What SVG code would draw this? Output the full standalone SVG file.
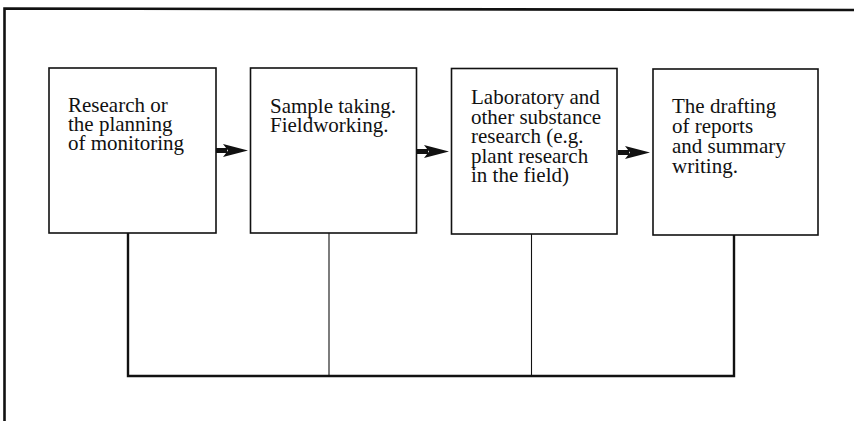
<svg xmlns="http://www.w3.org/2000/svg" width="854" height="421" viewBox="0 0 854 421">
<defs>
<style>
.box{fill:#fff;stroke:#111;stroke-width:1.6}
.lbl{font-family:"Liberation Serif","Times New Roman",serif;font-size:21px;fill:#111}
.frame{fill:none;stroke:#111;stroke-width:2.6}
.wire{fill:none;stroke:#111;stroke-linecap:square}
.head{fill:#111}
</style>
<g id="arrowShape">
<rect x="0" y="-2.5" width="11" height="5"/>
<polygon points="7,-6.5 32,0 7,6.5 12,0"/>
</g>
</defs>
<rect width="854" height="421" fill="#fff"/>
<path class="frame" d="M4.5,421 L4.5,8.5 L854,10"/>
<g id="connectors">
<path class="wire" stroke-width="2.4" d="M128,233 L128,376 L734,376 L734,235"/>
<line class="wire" stroke-width="1.1" x1="329" y1="233" x2="329" y2="376"/>
<line class="wire" stroke-width="1.1" x1="531.5" y1="234" x2="531.5" y2="376"/>
<use href="#arrowShape" class="head" x="216" y="150.5"/>
<use href="#arrowShape" class="head" x="417" y="151.5"/>
<use href="#arrowShape" class="head" x="618" y="152.5"/>
</g>
<g id="node1">
<rect class="box" x="49" y="68" width="167" height="165"/>
<text class="lbl" x="68" y="112">Research or</text>
<text class="lbl" x="68" y="131">the planning</text>
<text class="lbl" x="68" y="150">of monitoring</text>
</g>
<g id="node2">
<rect class="box" x="250.5" y="68" width="166" height="165"/>
<text class="lbl" x="270" y="112.5">Sample taking.</text>
<text class="lbl" x="270" y="132">Fieldworking.</text>
</g>
<g id="node3">
<rect class="box" x="451.5" y="68.5" width="165.5" height="165.5"/>
<text class="lbl" x="471" y="104">Laboratory and</text>
<text class="lbl" x="471" y="123.5">other substance</text>
<text class="lbl" x="471" y="143">research (e.g.</text>
<text class="lbl" x="471" y="162.5">plant research</text>
<text class="lbl" x="471" y="182">in the field)</text>
</g>
<g id="node4">
<rect class="box" x="653" y="69" width="165" height="166"/>
<text class="lbl" x="672" y="113">The drafting</text>
<text class="lbl" x="672" y="133">of reports</text>
<text class="lbl" x="672" y="153">and summary</text>
<text class="lbl" x="672" y="173">writing.</text>
</g>
</svg>
